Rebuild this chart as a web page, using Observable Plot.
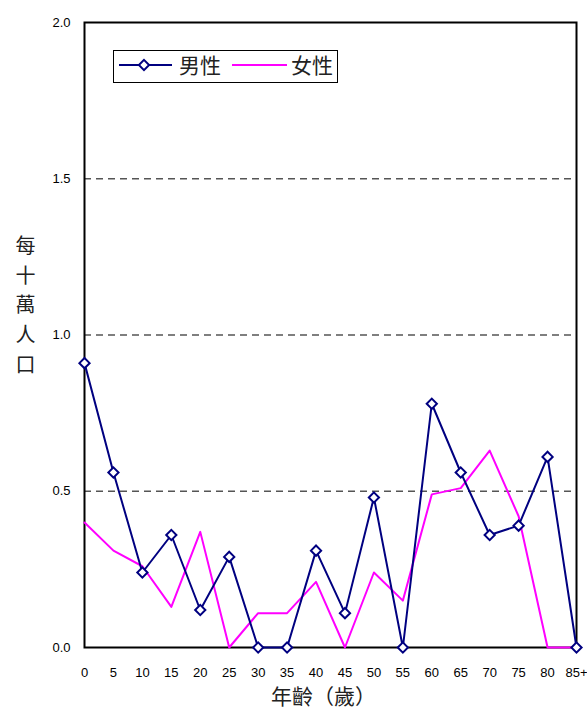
<!DOCTYPE html>
<html>
<head>
<meta charset="utf-8">
<script src="https://cdn.jsdelivr.net/npm/d3@7"></script>
<script src="https://cdn.jsdelivr.net/npm/@observablehq/plot@0.6"></script>
<style>
  html, body { margin: 0; padding: 0; background: #fff; }
  #chart { width: 587px; height: 716px; }
</style>
</head>
<body>
<div id="chart"></div>
<script>
const ages = ["0","5","10","15","20","25","30","35","40","45","50","55","60","65","70","75","80","85+"];
const male = [0.91,0.56,0.24,0.36,0.12,0.29,0,0,0.31,0.11,0.48,0,0.78,0.56,0.36,0.39,0.61,0];
const female = [0.40,0.31,0.26,0.13,0.37,0,0.11,0.11,0.21,0,0.24,0.15,0.49,0.51,0.63,0.42,0,0];
const yTicks = [0, 0.5, 1.0, 1.5, 2.0];
const gridLines = [0.5, 1.0, 1.5];
const seriesNames = ["男性", "女性"];
const yLabel = "每\n十\n萬\n人\n口";
const xLabel = "年齡（歲）";

const maleData = ages.map((a, i) => ({age: a, v: male[i]}));
const femaleData = ages.map((a, i) => ({age: a, v: female[i]}));

const NAVY = "#000080", MAGENTA = "#ff00ff";
const numFont = "'Liberation Sans', Arial, sans-serif";
const cjkFont = "'Noto Sans CJK TC', 'Noto Sans CJK SC', sans-serif";

const plot = Plot.plot({
  width: 587,
  height: 716,
  marginLeft: 84,
  marginRight: 11,
  marginTop: 22,
  marginBottom: 69,
  style: {fontFamily: numFont, fontSize: "13px", color: "#000", background: "#fff", overflow: "visible"},
  x: {type: "point", domain: ages, padding: 0, round: false, label: null},
  y: {domain: [0, 2], label: null},
  marks: [
    Plot.ruleY(gridLines, {stroke: "#555", strokeDasharray: "7,5", strokeWidth: 1.3}),
    Plot.frame({stroke: "#000", strokeWidth: 2}),
    Plot.axisY(yTicks, {tickSize: 0, tickPadding: 14, tickFormat: d3.format(".1f"), fontSize: 13, label: null}),
    Plot.axisX(ages, {tickSize: 0, tickPadding: 20, fontSize: 13, label: null}),
    Plot.line(femaleData, {x: "age", y: "v", stroke: MAGENTA, strokeWidth: 2}),
    Plot.line(maleData, {x: "age", y: "v", stroke: NAVY, strokeWidth: 2}),
    Plot.dot(maleData, {x: "age", y: "v", symbol: "diamond2", r: 4.6, stroke: NAVY, fill: "#fff", strokeWidth: 2}),
    Plot.text([yLabel], {frameAnchor: "left", dx: -59, dy: -32, fontSize: 20, lineHeight: 1.48, fontFamily: cjkFont, textAnchor: "middle", fill: "#222"}),
    Plot.text([xLabel], {frameAnchor: "bottom", dx: -7, dy: 56, fontSize: 21, fontFamily: cjkFont, textAnchor: "middle", fill: "#222"})
  ]
});

// Legend inside plot area
const svg = d3.select(plot);
const lg = svg.append("g").attr("text-anchor", "start");
lg.append("rect").attr("x", 113.5).attr("y", 50.5).attr("width", 224).attr("height", 32)
  .attr("fill", "#fff").attr("stroke", "#000").attr("stroke-width", 1);
lg.append("line").attr("x1", 119).attr("x2", 172).attr("y1", 65).attr("y2", 65).attr("stroke", NAVY).attr("stroke-width", 2);
lg.append("path").attr("d", d3.symbol(d3.symbolDiamond2, Math.PI * 4.6 * 4.6)())
  .attr("transform", "translate(144,65)").attr("fill", "#fff").attr("stroke", NAVY).attr("stroke-width", 2);
lg.append("text").attr("x", 179).attr("y", 65).attr("dy", "0.36em").attr("text-anchor", "start").text(seriesNames[0])
  .attr("font-size", 21).attr("font-family", cjkFont).attr("fill", "#222");
lg.append("line").attr("x1", 232).attr("x2", 287).attr("y1", 65).attr("y2", 65).attr("stroke", MAGENTA).attr("stroke-width", 2);
lg.append("text").attr("x", 291).attr("y", 65).attr("dy", "0.36em").attr("text-anchor", "start").text(seriesNames[1])
  .attr("font-size", 21).attr("font-family", cjkFont).attr("fill", "#222");

document.getElementById("chart").appendChild(plot);
</script>
</body>
</html>
